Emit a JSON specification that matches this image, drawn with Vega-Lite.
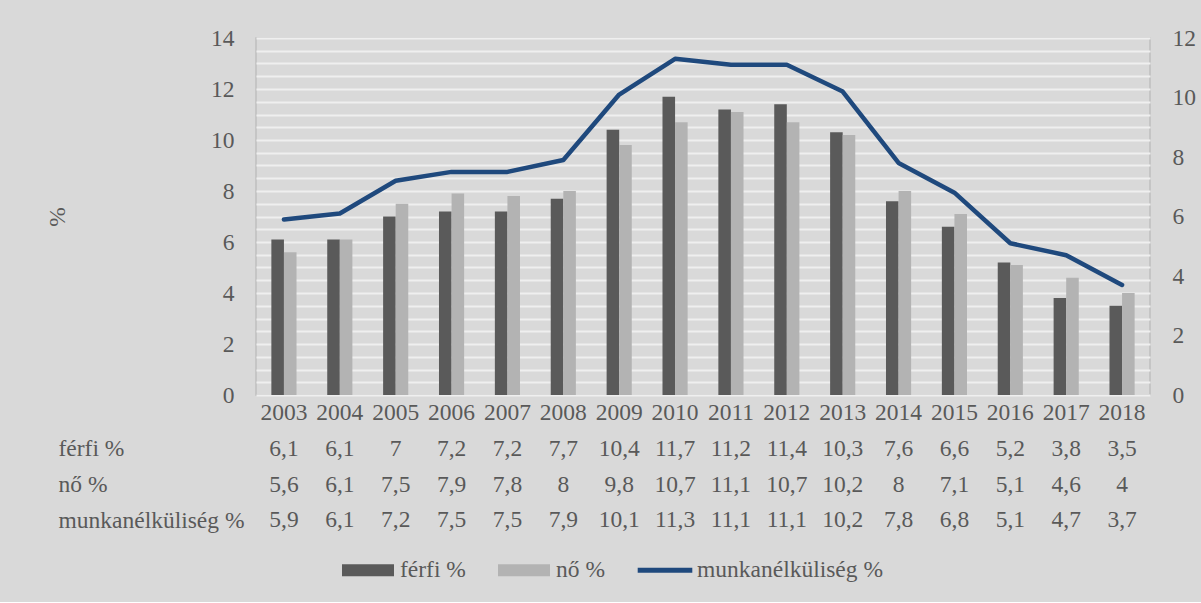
{
  "$schema": "https://vega.github.io/schema/vega-lite/v6.json",
  "background": "#d9d9d9",
  "padding": {"left": 44, "top": 25, "right": 6, "bottom": 20},
  "config": {
    "font": "Liberation Serif",
    "locale": {"number": {"decimal": ",", "thousands": " ", "grouping": [3], "currency": ["", ""]}},
    "view": {"stroke": null},
    "axis": {"labelFont": "Liberation Serif", "labelFontSize": 23.5, "labelColor": "#595959", "titleFont": "Liberation Serif", "titleFontSize": 23.5, "titleColor": "#595959", "titleFontWeight": "normal", "labelLimit": 400},
    "legend": {"labelFont": "Liberation Serif", "labelFontSize": 23.5, "labelColor": "#595959", "labelLimit": 400},
    "concat": {"spacing": 6}
  },
  "data": {"values": [
    {"year": "2003", "series": "férfi %", "value": 6.1},
    {"year": "2004", "series": "férfi %", "value": 6.1},
    {"year": "2005", "series": "férfi %", "value": 7},
    {"year": "2006", "series": "férfi %", "value": 7.2},
    {"year": "2007", "series": "férfi %", "value": 7.2},
    {"year": "2008", "series": "férfi %", "value": 7.7},
    {"year": "2009", "series": "férfi %", "value": 10.4},
    {"year": "2010", "series": "férfi %", "value": 11.7},
    {"year": "2011", "series": "férfi %", "value": 11.2},
    {"year": "2012", "series": "férfi %", "value": 11.4},
    {"year": "2013", "series": "férfi %", "value": 10.3},
    {"year": "2014", "series": "férfi %", "value": 7.6},
    {"year": "2015", "series": "férfi %", "value": 6.6},
    {"year": "2016", "series": "férfi %", "value": 5.2},
    {"year": "2017", "series": "férfi %", "value": 3.8},
    {"year": "2018", "series": "férfi %", "value": 3.5},
    {"year": "2003", "series": "nő %", "value": 5.6},
    {"year": "2004", "series": "nő %", "value": 6.1},
    {"year": "2005", "series": "nő %", "value": 7.5},
    {"year": "2006", "series": "nő %", "value": 7.9},
    {"year": "2007", "series": "nő %", "value": 7.8},
    {"year": "2008", "series": "nő %", "value": 8},
    {"year": "2009", "series": "nő %", "value": 9.8},
    {"year": "2010", "series": "nő %", "value": 10.7},
    {"year": "2011", "series": "nő %", "value": 11.1},
    {"year": "2012", "series": "nő %", "value": 10.7},
    {"year": "2013", "series": "nő %", "value": 10.2},
    {"year": "2014", "series": "nő %", "value": 8},
    {"year": "2015", "series": "nő %", "value": 7.1},
    {"year": "2016", "series": "nő %", "value": 5.1},
    {"year": "2017", "series": "nő %", "value": 4.6},
    {"year": "2018", "series": "nő %", "value": 4},
    {"year": "2003", "series": "munkanélküliség %", "value": 5.9},
    {"year": "2004", "series": "munkanélküliség %", "value": 6.1},
    {"year": "2005", "series": "munkanélküliség %", "value": 7.2},
    {"year": "2006", "series": "munkanélküliség %", "value": 7.5},
    {"year": "2007", "series": "munkanélküliség %", "value": 7.5},
    {"year": "2008", "series": "munkanélküliség %", "value": 7.9},
    {"year": "2009", "series": "munkanélküliség %", "value": 10.1},
    {"year": "2010", "series": "munkanélküliség %", "value": 11.3},
    {"year": "2011", "series": "munkanélküliség %", "value": 11.1},
    {"year": "2012", "series": "munkanélküliség %", "value": 11.1},
    {"year": "2013", "series": "munkanélküliség %", "value": 10.2},
    {"year": "2014", "series": "munkanélküliség %", "value": 7.8},
    {"year": "2015", "series": "munkanélküliség %", "value": 6.8},
    {"year": "2016", "series": "munkanélküliség %", "value": 5.1},
    {"year": "2017", "series": "munkanélküliség %", "value": 4.7},
    {"year": "2018", "series": "munkanélküliség %", "value": 3.7}
  ]},
  "vconcat": [
    {
      "width": 894,
      "height": 357,
      "view": {"stroke": "#bfbfbf", "strokeWidth": 1.5},
      "layer": [
        {
          "transform": [{"filter": "datum.series !== 'munkanélküliség %'"}],
          "mark": {"type": "bar"},
          "encoding": {
            "x": {"field": "year", "type": "nominal", "scale": {"paddingInner": 0.55, "paddingOuter": 0.275},
                  "axis": {"title": null, "labelAngle": 0, "ticks": false, "domain": false, "grid": false, "labelPadding": 5}},
            "xOffset": {"field": "series", "type": "nominal", "sort": ["férfi %", "nő %"], "scale": {"paddingInner": 0}},
            "y": {"field": "value", "type": "quantitative", "scale": {"domain": [0, 14], "nice": false},
                  "axis": {"title": "%", "values": [0, 0.5, 1, 1.5, 2, 2.5, 3, 3.5, 4, 4.5, 5, 5.5, 6, 6.5, 7, 7.5, 8, 8.5, 9, 9.5, 10, 10.5, 11, 11.5, 12, 12.5, 13, 13.5, 14],
                           "format": "~g",
                           "labelExpr": "datum.value % 2 === 0 ? datum.label : ''", "labelOverlap": false,
                           "ticks": false, "domain": false, "gridColor": "#efefef", "gridWidth": 2,
                           "labelPadding": 22, "titlePadding": 141}},
            "color": {"field": "series", "type": "nominal",
                      "scale": {"domain": ["férfi %", "nő %", "munkanélküliség %"], "range": ["#5a5a5a", "#b3b3b3", "#1f497d"]},
                      "legend": {"title": null, "orient": "none", "direction": "horizontal", "legendX": 86, "legendY": 506,
                                 "symbolSize": 2704, "labelOffset": 6, "columnPadding": 32, "symbolStrokeWidth": 0,
                                 "encode": {"symbols": {"update": {
                                   "fill": {"scale": "color", "field": "value"},
                                   "stroke": {"value": "transparent"},
                                   "opacity": {"value": 1},
                                   "shape": {"signal": "datum.value === 'munkanélküliség %' ? 'M-1.05,-0.1H1.05V0.1H-1.05Z' : 'M-1,-0.23H1V0.23H-1Z'"}
                                 }}}}}
          }
        },
        {
          "transform": [{"filter": "datum.series === 'munkanélküliség %'"}],
          "mark": {"type": "line", "strokeWidth": 4.5, "strokeCap": "round", "strokeJoin": "round"},
          "encoding": {
            "x": {"field": "year", "type": "nominal"},
            "y": {"field": "value", "type": "quantitative", "scale": {"domain": [0, 12], "nice": false},
                  "axis": {"orient": "right", "title": null, "values": [0, 2, 4, 6, 8, 10, 12], "grid": false, "ticks": false, "domain": false, "labelPadding": 22, "labelAlign": "left"}},
            "color": {"field": "series", "type": "nominal"}
          }
        }
      ],
      "resolve": {"scale": {"y": "independent"}}
    },
    {
      "width": 894,
      "height": 107,
      "mark": {"type": "text", "font": "Liberation Serif", "fontSize": 23.5, "color": "#595959"},
      "encoding": {
        "x": {"field": "year", "type": "nominal", "scale": {"paddingInner": 0, "paddingOuter": 0}, "axis": null},
        "y": {"field": "series", "type": "nominal", "sort": ["férfi %", "nő %", "munkanélküliség %"], "scale": {"paddingInner": 0, "paddingOuter": 0},
              "axis": {"title": null, "ticks": false, "domain": false, "grid": false, "labelAlign": "left", "labelPadding": 198, "labelLimit": 400}},
        "text": {"field": "value", "type": "quantitative", "format": ".1~f"}
      }
    }
  ],
  "resolve": {"scale": {"x": "independent", "y": "independent"}}
}
